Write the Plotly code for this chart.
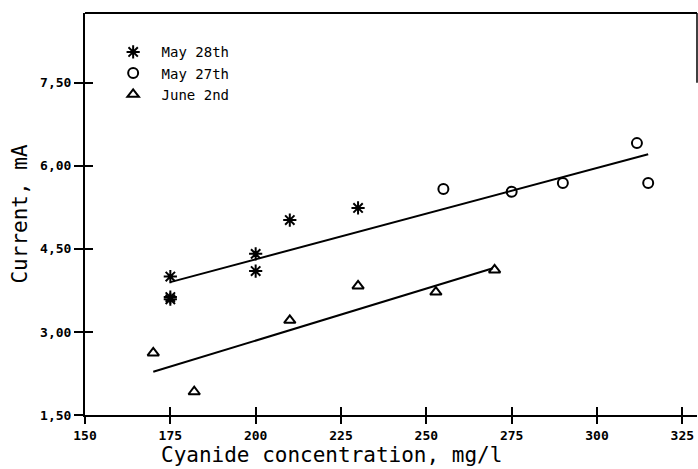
import plotly.graph_objects as go

# Data
may28_x = [175, 175, 175, 200, 200, 210, 230]
may28_y = [4.00, 3.63, 3.59, 4.41, 4.10, 5.02, 5.24]

may27_x = [255, 275, 290, 311.7, 315]
may27_y = [5.58, 5.53, 5.69, 6.41, 5.69]

jun2_x = [170, 182, 210, 230, 252.8, 270]
jun2_y = [2.62, 1.92, 3.21, 3.83, 3.72, 4.12]

# fitted lines (end points)
fit_upper_x = [175, 315]
fit_upper_y = [3.90, 6.21]
fit_lower_x = [170, 269.5]
fit_lower_y = [2.28, 4.15]

x_ticks = [150, 175, 200, 225, 250, 275, 300, 325]
y_ticks = [1.50, 3.00, 4.50, 6.00, 7.50]
y_tick_text = ["1,50", "3,00", "4,50", "6,00", "7,50"]

series_names = ["May 28th", "May 27th", "June 2nd"]
x_title = "Cyanide concentration, mg/l"
y_title = "Current, mA"

X_RANGE = [150, 329.3]
Y_RANGE = [1.5, 8.76]

MONO = "DejaVu Sans Mono"
NB = "\u00a0"

fig = go.Figure()
fig.add_trace(go.Scatter(x=fit_upper_x, y=fit_upper_y, mode="lines",
                         line=dict(color="black", width=2), showlegend=False, hoverinfo="skip"))
fig.add_trace(go.Scatter(x=fit_lower_x, y=fit_lower_y, mode="lines",
                         line=dict(color="black", width=2), showlegend=False, hoverinfo="skip"))
fig.add_trace(go.Scatter(x=may28_x, y=may28_y, mode="markers", name=NB + series_names[0],
                         marker=dict(symbol="asterisk-open", size=11, color="black",
                                     line=dict(color="black", width=2))))
fig.add_trace(go.Scatter(x=may27_x, y=may27_y, mode="markers", name=NB + series_names[1],
                         marker=dict(symbol="circle-open", size=10, color="black",
                                     line=dict(color="black", width=2))))
fig.add_trace(go.Scatter(x=jun2_x, y=jun2_y, mode="markers", name=NB + series_names[2],
                         marker=dict(symbol="triangle-up-open", size=10, color="black",
                                     line=dict(color="black", width=2))))

# invisible trace on overlay axes to carry the inner half of crossing ticks
fig.add_trace(go.Scatter(x=[None], y=[None], xaxis="x2", yaxis="y2", showlegend=False))

fig.update_layout(
    width=698, height=469,
    margin=dict(l=85, r=1, t=13, b=54, autoexpand=False),
    paper_bgcolor="white", plot_bgcolor="white",
    font=dict(family=MONO, color="black"),
    showlegend=True,
    legend=dict(x=0.046, y=0.942, xanchor="left", yanchor="top",
                bgcolor="rgba(0,0,0,0)", borderwidth=0,
                font=dict(family=MONO, size=14, color="black"),
                itemwidth=30),
    xaxis=dict(range=X_RANGE, tickvals=x_ticks, ticktext=[str(v) for v in x_ticks],
               ticks="outside", ticklen=7, tickwidth=2, tickcolor="black",
               showline=True, linecolor="black", linewidth=2, mirror=False,
               showgrid=False, zeroline=False,
               tickfont=dict(family=MONO, size=13, weight="bold")),
    yaxis=dict(range=Y_RANGE, tickvals=y_ticks, ticktext=y_tick_text,
               ticks="outside", ticklen=9, tickwidth=2, tickcolor="black",
               showline=True, linecolor="black", linewidth=2,
               showgrid=False, zeroline=False,
               tickfont=dict(family=MONO, size=13, weight="bold"),
               title=dict(text=y_title,
                          font=dict(family=MONO, size=21), standoff=7)),
    xaxis2=dict(range=X_RANGE, overlaying="x", side="bottom", tickvals=x_ticks,
                showticklabels=False, ticks="inside", ticklen=8, tickwidth=2,
                tickcolor="black", showgrid=False, zeroline=False, showline=False),
    yaxis2=dict(range=Y_RANGE, overlaying="y", side="left", tickvals=y_ticks,
                showticklabels=False, ticks="inside", ticklen=8, tickwidth=2,
                tickcolor="black", showgrid=False, zeroline=False, showline=False),
    annotations=[
        dict(text=x_title, xref="paper", yref="paper", x=0.402, y=-0.1,
             xanchor="center", yanchor="middle", showarrow=False,
             font=dict(family=MONO, size=21, color="black")),
    ],
    shapes=[
        dict(type="line", xref="paper", yref="paper", x0=0, x1=1, y0=1, y1=1,
             line=dict(color="black", width=2)),
        dict(type="line", xref="paper", yref="y", x0=1, x1=1, y0=7.5, y1=Y_RANGE[1],
             line=dict(color="black", width=1.5)),
    ],
)

fig.write_html(
    "out.html",
    config={"displayModeBar": False},
    post_script="document.body.style.margin='0';document.body.style.padding='0';"
                "document.body.style.overflow='hidden';"
                "document.documentElement.style.overflow='hidden';",
)
